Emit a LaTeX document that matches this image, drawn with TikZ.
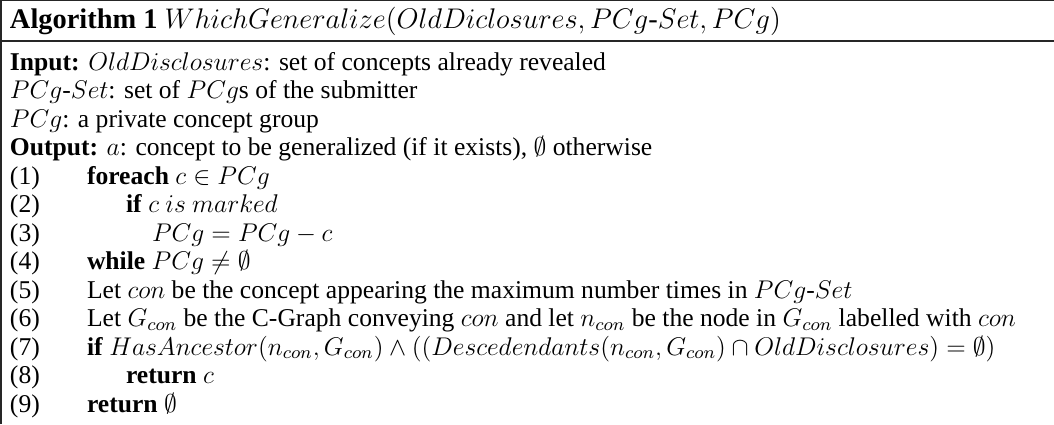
\RequirePackage{fix-cm}
\documentclass[tikz,border=0pt]{standalone}
\usepackage[no-math]{fontspec}
\setmainfont{Liberation Serif}

\newcommand\TitleText{\textbf{Algorithm 1} $WhichGeneralize(OldDiclosures, PCg\mbox{-}Set, PCg)$}
\newcommand\LineSix{Let $G_{con}$ be the C-Graph conveying $con$ and let $n_{con}$ be the node in $G_{con}$ labelled with $con$}
\newcommand\bodyfont{\fontsize{12.8pt}{14.25pt}\selectfont}
\newcommand\titlefont{\fontsize{14.2pt}{16pt}\selectfont}

\begin{document}
\begin{tikzpicture}[x=0.5pt,y=-0.5pt,
  rule/.style={line width=0.8pt, draw=black!85},
  txt/.style={anchor=base west, inner sep=0pt, outer sep=0pt, font=\bodyfont},
  ttl/.style={anchor=base west, inner sep=0pt, outer sep=0pt, font=\titlefont}]
\useasboundingbox (0,0) rectangle (1054,424);

% frame: top rule, left rule, caption separator
\coordinate (tl) at (1,0.6);
\coordinate (tr) at (1054,0.6);
\coordinate (bl) at (1,424);
\coordinate (sl) at (0,41);
\coordinate (sr) at (1054,41);
\draw[rule] (bl) -- (tl) -- (tr);
\draw[rule] (sl) -- (sr);

% caption
\node[ttl] (title) at (10,28) {\TitleText};

% header lines
\def\lsp{28.5}
\node[txt] (in1) at (10,70) {\textbf{Input:} $OldDisclosures$: set of concepts already revealed};
\node[txt] (in2) at (10,70+\lsp) {$PCg$-$Set$: set of $PCg$s of the submitter};
\node[txt] (in3) at (10,70+2*\lsp) {$PCg$: a private concept group};
\node[txt] (out) at (10,70+3*\lsp) {\textbf{Output:} $a$: concept to be generalized (if it exists), $\emptyset$ otherwise};

% numbered steps
\foreach \n in {1,...,9}{
  \node[txt] (num\n) at (10,70+\lsp*3+\lsp*\n) {(\n)};
}
\node[txt] (s1) at (87,70+4*\lsp)  {\textbf{foreach} $c \in PCg$};
\node[txt] (s2) at (126,70+5*\lsp) {\textbf{if} $c~is~marked$};
\node[txt] (s3) at (152,70+6*\lsp) {$PCg = PCg - c$};
\node[txt] (s4) at (87,70+7*\lsp)  {\textbf{while} $PCg \neq \emptyset$};
\node[txt] (s5) at (87,70+8*\lsp)  {Let $con$ be the concept appearing the maximum number times in $PCg$-$Set$};
\node[txt] (s6) at (87,70+9*\lsp)  {\LineSix};
\node[txt] (s7) at (87,70+10*\lsp) {\textbf{if} $HasAncestor(n_{con}, G_{con}) \wedge ((Descedendants(n_{con}, G_{con}) \cap OldDisclosures) = \emptyset)$};
\node[txt] (s8) at (126,70+11*\lsp) {\textbf{return} $c$};
\node[txt] (s9) at (87,70+12*\lsp) {\textbf{return} $\emptyset$};
\end{tikzpicture}
\end{document}
